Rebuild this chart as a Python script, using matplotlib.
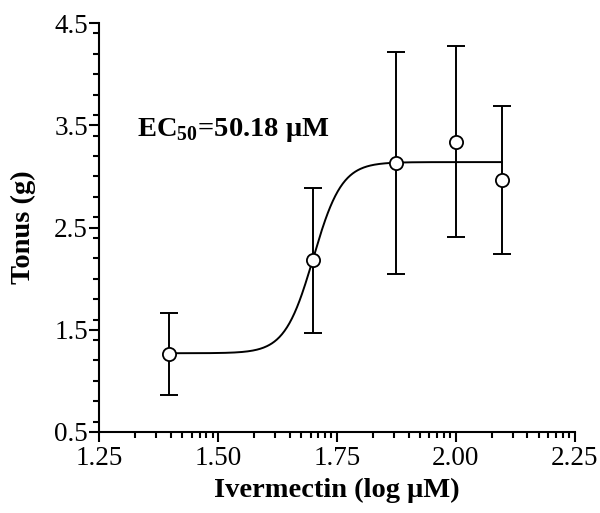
import numpy as np
import matplotlib.pyplot as plt
from matplotlib.ticker import FixedLocator, MultipleLocator

plt.rcParams['font.family'] = ['Liberation Serif', 'DejaVu Serif']
plt.rcParams['mathtext.fontset'] = 'custom'
plt.rcParams['mathtext.rm'] = 'Liberation Serif'
plt.rcParams['mathtext.bf'] = 'Liberation Serif:bold'

# data (log uM concentration vs tonus)
log_conc = [1.398, 1.699, 1.875, 2.000, 2.097]
tonus = [1.26, 2.18, 3.13, 3.34, 2.96]
err_hi = [1.66, 2.89, 4.22, 4.28, 3.69]
err_lo = [0.86, 1.47, 2.05, 2.41, 2.24]

# fitted sigmoid parameters
bottom = 1.27
top = 3.14
log_ec50 = np.log10(50.18)
hill = 14.5

xs = np.linspace(log_conc[0], log_conc[-1], 400)
ys = bottom + (top - bottom) / (1 + 10 ** ((log_ec50 - xs) * hill))

fig = plt.figure(figsize=(6, 5.13), dpi=100)
ax = fig.add_axes([0.165, 0.158, 0.793, 0.797])

lower = np.array(tonus) - np.array(err_lo)
upper = np.array(err_hi) - np.array(tonus)
ax.errorbar(log_conc, tonus, yerr=[lower, upper], fmt='none', ecolor='black',
            elinewidth=1.4, capsize=6.5, capthick=1.4, zorder=2)
ax.plot(xs, ys, color='black', lw=1.4, zorder=3)
ax.plot(log_conc, tonus, 'o', ms=9.5, mfc='white', mec='black', mew=1.3, zorder=4)

ax.set_xlim(1.25, 2.25)
ax.set_ylim(0.5, 4.5)
ax.set_xticks([1.25, 1.50, 1.75, 2.00, 2.25])
ax.set_xticklabels(['1.25', '1.50', '1.75', '2.00', '2.25'])
minor_x = [s + 0.25 * np.log10(k) for s in [1.25, 1.5, 1.75, 2.0] for k in range(2, 10)]
ax.xaxis.set_minor_locator(FixedLocator(minor_x))
ax.set_yticks([0.5, 1.5, 2.5, 3.5, 4.5])
ax.yaxis.set_minor_locator(MultipleLocator(0.2))

for s in ['top', 'right']:
    ax.spines[s].set_visible(False)
for s in ['left', 'bottom']:
    ax.spines[s].set_linewidth(1.5)
ax.tick_params(which='major', direction='out', length=7, width=1.5, labelsize=19.5)
ax.tick_params(which='minor', direction='out', length=4, width=1.5)
ax.tick_params(axis='y', which='major', pad=1)
ax.tick_params(axis='x', which='major', pad=3)

ax.set_xlabel('Ivermectin (log μM)', fontsize=20.5, fontweight='bold', labelpad=5)
ax.set_ylabel('Tonus (g)', fontsize=20.5, fontweight='bold', labelpad=13)

ax.text(1.33, 3.40, r'EC$_{\mathbf{50}}$=50.18 μM', fontsize=20.5, fontweight='bold')

fig.savefig('out.png', dpi=100)
